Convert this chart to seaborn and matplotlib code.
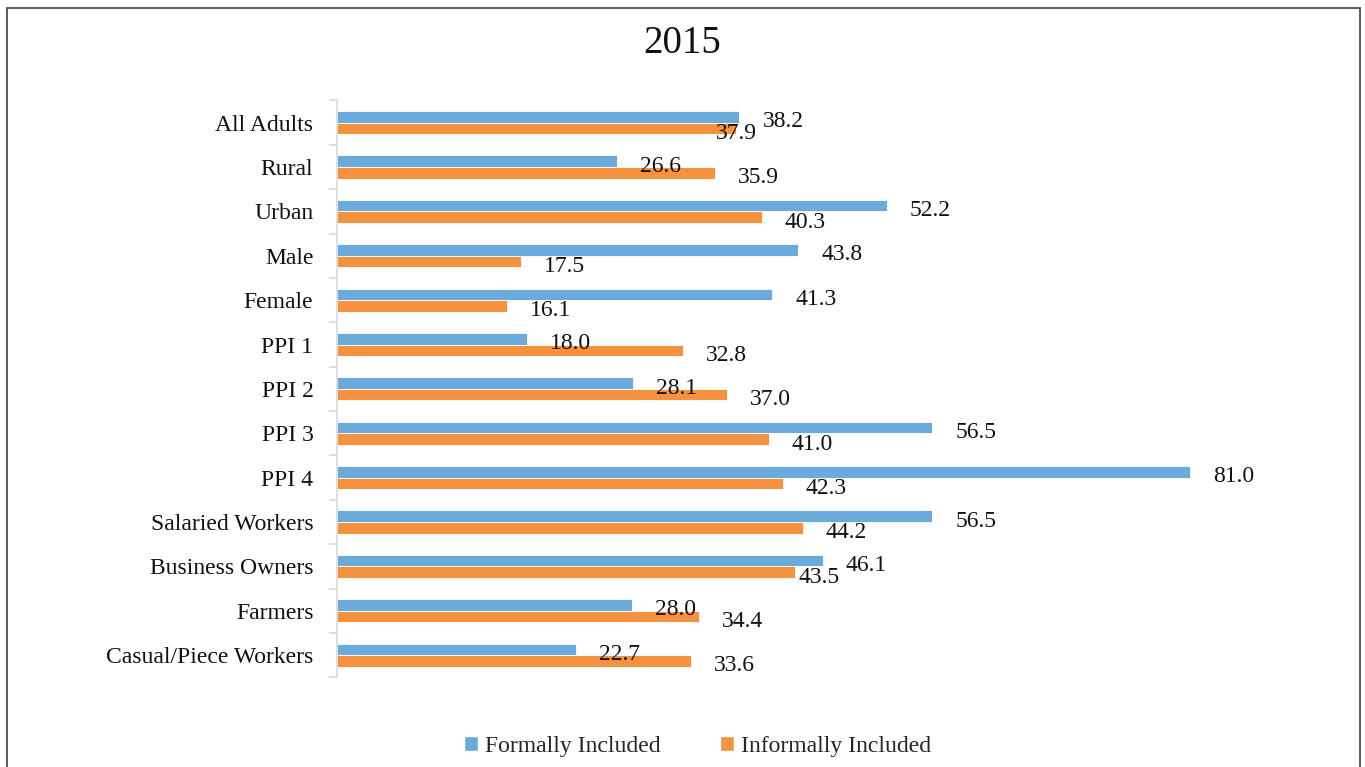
import pandas as pd
import matplotlib.pyplot as plt
import seaborn as sns
from matplotlib.patches import Rectangle, Patch

# Datos
groups = ['All Adults', 'Rural', 'Urban', 'Male', 'Female', 'PPI 1', 'PPI 2',
          'PPI 3', 'PPI 4', 'Salaried Workers', 'Business Owners', 'Farmers',
          'Casual/Piece Workers']
formal = [38.2, 26.6, 52.2, 43.8, 41.3, 18.0, 28.1, 56.5, 81.0, 56.5, 46.1, 28.0, 22.7]
informal = [37.9, 35.9, 40.3, 17.5, 16.1, 32.8, 37.0, 41.0, 42.3, 44.2, 43.5, 34.4, 33.6]
series = ['Formally Included', 'Informally Included']
colors = ['#6AABDB', '#F4923F']

df = pd.DataFrame({
    'group': groups * 2,
    'series': [series[0]] * len(groups) + [series[1]] * len(groups),
    'value': formal + informal,
})

sns.set_style('white')
plt.rcParams['font.family'] = ['Liberation Serif', 'DejaVu Serif']
fs = 17

fig = plt.figure(figsize=(13.65, 7.67), dpi=100)
ax = fig.add_axes([0.2469, 0.117, 0.6945, 0.752])

sns.barplot(data=df, x='value', y='group', hue='series', orient='h',
            palette=colors, width=0.52, saturation=1, ax=ax,
            edgecolor='white', linewidth=0.6, legend=False)

ax.set_xlim(0, 90)
ax.set_ylim(len(groups) - 0.5, -0.5)

# Etiquetas de valor (si chocan, la naranja se corre a la izquierda)
fig.canvas.draw()
px = ax.transData.transform
lab_w = 44
blue_bars, orange_bars = ax.containers[0], ax.containers[1]
for pb, po in zip(blue_bars, orange_bars):
    wb, wo = pb.get_width(), po.get_width()
    yb = pb.get_y() + pb.get_height() / 2
    yo = po.get_y() + po.get_height() / 2
    xb = px((wb, 0))[0] + 23
    xo = px((wo, 0))[0] + 23
    ax.annotate(format(wb, '.1f'), (wb, yb), xytext=(23, -5),
                textcoords='offset pixels', ha='left', va='center',
                fontsize=fs, color='#111111')
    dx = 23
    if abs(xo - xb) < lab_w:
        dx = (xb - 3 - lab_w) - px((wo, 0))[0]
    ax.annotate(format(wo, '.1f'), (wo, yo), xytext=(dx, -5),
                textcoords='offset pixels', ha='left', va='center',
                fontsize=fs, color='#111111')

ax.set_xlabel('')
ax.set_ylabel('')
ax.set_xticks([])
for s in ['top', 'right', 'bottom']:
    ax.spines[s].set_visible(False)
ax.spines['left'].set_color('#D9D9D9')
ax.spines['left'].set_linewidth(1.2)

ax.set_yticks(range(len(groups)))
ax.set_yticklabels(groups, fontsize=fs, color='#111111')
ax.tick_params(axis='y', which='major', left=False, length=0, pad=17)
ax.set_yticks([i - 0.5 for i in range(len(groups) + 1)], minor=True)
ax.tick_params(axis='y', which='minor', left=True, length=6,
               color='#D9D9D9', width=1.2)

fig.suptitle('2015', fontsize=28, y=0.968, color='#111111')

handles = [Patch(facecolor=c, label=s) for c, s in zip(colors, series)]
fig.legend(handles=handles, loc='lower center', bbox_to_anchor=(0.511, -0.015),
           ncol=2, frameon=False, fontsize=fs, handlelength=0.6,
           handleheight=0.6, handletextpad=0.3, columnspacing=2.5)

# Marco exterior
fig.patches.append(Rectangle((0.0051, -0.02), 0.9912, 1.0096,
                             transform=fig.transFigure, fill=False,
                             edgecolor='#404040', linewidth=1.2))

plt.savefig('out.png', dpi=100)
